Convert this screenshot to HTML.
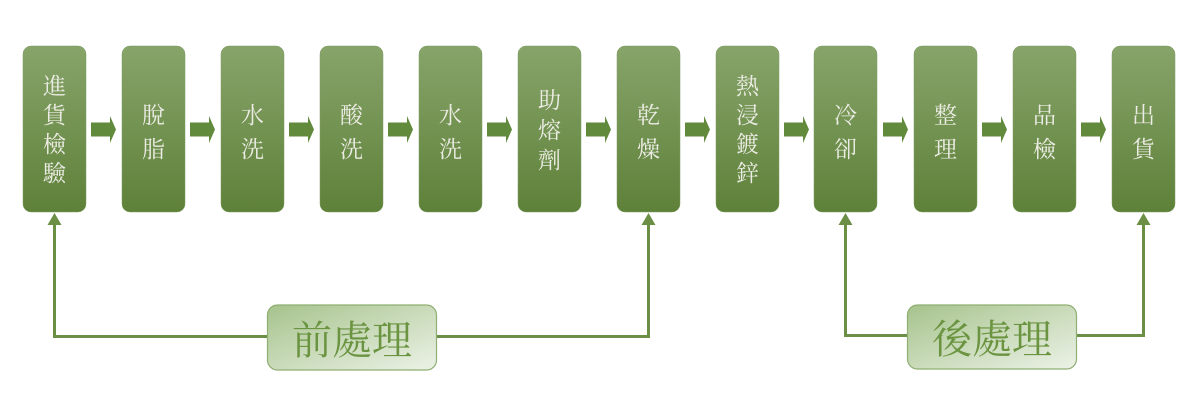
<!DOCTYPE html>
<html><head><meta charset="utf-8"><style>
html,body{margin:0;padding:0;background:#fff;}
svg{display:block;}
</style></head><body>
<svg width="1200" height="420" viewBox="0 0 1200 420" xmlns="http://www.w3.org/2000/svg">
<defs>
<linearGradient id="bg" x1="0" y1="0" x2="0" y2="1">
<stop offset="0" stop-color="#87a46a"/>
<stop offset="1" stop-color="#5e8139"/>
</linearGradient>
<linearGradient id="lg" x1="0" y1="0" x2="1" y2="1">
<stop offset="0" stop-color="#a6c38c"/>
<stop offset="1" stop-color="#ecf2e7"/>
</linearGradient>
<polygon id="ar" points="0,-7 19,-7 19,-13.5 25,0 19,13.5 19,7 0,7"/>
</defs>
<g fill="url(#bg)" stroke="#7e9c62" stroke-width="0.5">
<rect x="23" y="46" width="63" height="166" rx="8"/>
<rect x="122" y="46" width="63" height="166" rx="8"/>
<rect x="221" y="46" width="63" height="166" rx="8"/>
<rect x="320" y="46" width="63" height="166" rx="8"/>
<rect x="419" y="46" width="63" height="166" rx="8"/>
<rect x="518" y="46" width="63" height="166" rx="8"/>
<rect x="617" y="46" width="63" height="166" rx="8"/>
<rect x="716" y="46" width="63" height="166" rx="8"/>
<rect x="814" y="46" width="63" height="166" rx="8"/>
<rect x="914" y="46" width="63" height="166" rx="8"/>
<rect x="1013" y="46" width="63" height="166" rx="8"/>
<rect x="1112" y="46" width="63" height="166" rx="8"/>
</g>
<g fill="#628a3c">
<use href="#ar" x="91" y="129.5"/>
<use href="#ar" x="190" y="129.5"/>
<use href="#ar" x="289" y="129.5"/>
<use href="#ar" x="388" y="129.5"/>
<use href="#ar" x="487" y="129.5"/>
<use href="#ar" x="586" y="129.5"/>
<use href="#ar" x="685" y="129.5"/>
<use href="#ar" x="784" y="129.5"/>
<use href="#ar" x="883" y="129.5"/>
<use href="#ar" x="982" y="129.5"/>
<use href="#ar" x="1081" y="129.5"/>
</g>
<g fill="none" stroke="#6a8f45" stroke-width="3">
<polyline points="54.5,224 54.5,336.5 268,336.5"/>
<polyline points="437,336.5 648.5,336.5 648.5,224"/>
<polyline points="845.5,224 845.5,335.5 908,335.5"/>
<polyline points="1077,335.5 1143.5,335.5 1143.5,224"/>
</g>
<g fill="#6a8f45">
<polygon points="54.5,213 47.5,225 61.5,225"/>
<polygon points="648.5,213 641.5,225 655.5,225"/>
<polygon points="845.5,213 838.5,225 852.5,225"/>
<polygon points="1143.5,213 1136.5,225 1150.5,225"/>
</g>
<rect x="267.5" y="305" width="169" height="65" rx="10" fill="url(#lg)" stroke="#8eae72" stroke-width="1.2"/>
<rect x="907.5" y="305" width="169" height="64" rx="10" fill="url(#lg)" stroke="#8eae72" stroke-width="1.2"/>
<g font-family="'Liberation Serif','Noto Serif CJK SC',serif" font-size="40" fill="#6b9441" text-anchor="middle">
<text x="352" y="354">前處理</text>
<text x="992" y="353">後處理</text>
</g>
<g font-family="'Liberation Serif','Noto Serif CJK SC',serif" font-size="23" fill="#ecece4" text-anchor="middle">
<text x="54.5" y="94">進</text><text x="54.5" y="123">貨</text><text x="54.5" y="152">檢</text><text x="54.5" y="181">驗</text>
<text x="153.5" y="123">脫</text><text x="153.5" y="157">脂</text>
<text x="252.5" y="123">水</text><text x="252.5" y="157">洗</text>
<text x="351.5" y="123">酸</text><text x="351.5" y="157">洗</text>
<text x="450.5" y="123">水</text><text x="450.5" y="157">洗</text>
<text x="549.5" y="108">助</text><text x="549.5" y="138">熔</text><text x="549.5" y="168">劑</text>
<text x="648.5" y="123">乾</text><text x="648.5" y="157">燥</text>
<text x="747.5" y="94">熱</text><text x="747.5" y="123">浸</text><text x="747.5" y="152">鍍</text><text x="747.5" y="181">鋅</text>
<text x="845.5" y="123">冷</text><text x="845.5" y="157">卻</text>
<text x="945.5" y="123">整</text><text x="945.5" y="157">理</text>
<text x="1044.5" y="123">品</text><text x="1044.5" y="157">檢</text>
<text x="1143.5" y="123">出</text><text x="1143.5" y="157">貨</text>
</g>
</svg>
</body></html>
